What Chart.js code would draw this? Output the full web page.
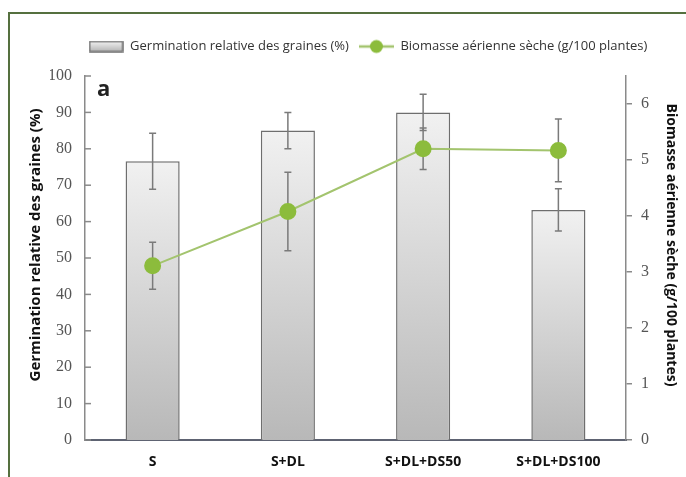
<!DOCTYPE html>
<html>
<head>
<meta charset="utf-8">
<script src="https://cdn.jsdelivr.net/npm/chart.js@4.4.0/dist/chart.umd.min.js"></script>
<style>
  html, body { margin: 0; padding: 0; background: #fff; }
  #wrap { position: relative; width: 686px; height: 477px; overflow: hidden; }
  #frame { position: absolute; left: 8px; top: 12px; right: -4px; bottom: -4px;
           border-left: 2px solid #55703f; border-top: 2px solid #55703f; }
  #chart { position: absolute; left: 0; top: 0; }
</style>
</head>
<body>
<div id="wrap">
  <div id="frame"></div>
  <canvas id="chart" width="686" height="477"></canvas>
</div>
<script>
// data
const categories = ['S', 'S+DL', 'S+DL+DS50', 'S+DL+DS100'];
const germination = [76.6, 85, 90, 63.2];
const germinationErr = [7.7, 5, 5, 5.8];
const biomasse = [3.11, 4.08, 5.2, 5.17];
const biomasseErr = [0.42, 0.7, 0.37, 0.56];
const panelLabel = 'a';
const leftTitle = 'Germination relative des graines (%)';
const rightTitle = 'Biomasse aérienne sèche (g/100 plantes)';

const GREEN_LINE = '#a3c46e';
const GREEN_POINT = '#8cbc3c';
const BAR_EDGE = '#6e6e6e';
const ERR_COLOR = '#7a7a7a';

// gradient per bar, light at the top and darker at the base
function barFill(context) {
  const chart = context.chart;
  if (!chart.chartArea || context.type !== 'data') return '#d4d4d4';
  const y = chart.scales.y;
  const top = y.getPixelForValue(context.raw);
  const bottom = y.getPixelForValue(0);
  const g = chart.ctx.createLinearGradient(0, top, 0, bottom);
  g.addColorStop(0, '#f1f1f1');
  g.addColorStop(1, '#b8b8b8');
  return g;
}

// little canvases used as legend symbols
function legendBox() {
  const c = document.createElement('canvas');
  c.width = 35; c.height = 12;
  const x = c.getContext('2d');
  const g = x.createLinearGradient(0, 1, 0, 11);
  g.addColorStop(0, '#f0f0f0');
  g.addColorStop(1, '#b4b4b4');
  x.fillStyle = g;
  x.fillRect(1, 1, 33, 10);
  x.strokeStyle = BAR_EDGE;
  x.lineWidth = 1.5;
  x.strokeRect(1, 1, 33, 10);
  return c;
}

function legendLine() {
  const c = document.createElement('canvas');
  c.width = 35; c.height = 16;
  const x = c.getContext('2d');
  x.strokeStyle = GREEN_LINE;
  x.lineWidth = 2.5;
  x.beginPath(); x.moveTo(0, 8); x.lineTo(35, 8); x.stroke();
  x.fillStyle = GREEN_POINT;
  x.beginPath(); x.arc(17.5, 8, 6.5, 0, Math.PI * 2); x.fill();
  return c;
}

function drawErrors(chart, index, scale, values, errs) {
  const ctx = chart.ctx;
  const meta = chart.getDatasetMeta(index);
  ctx.save();
  ctx.strokeStyle = ERR_COLOR;
  ctx.lineWidth = 1.5;
  meta.data.forEach(function(el, i) {
    const hi = scale.getPixelForValue(values[i] + errs[i]);
    const lo = scale.getPixelForValue(values[i] - errs[i]);
    ctx.beginPath();
    ctx.moveTo(el.x, hi); ctx.lineTo(el.x, lo);
    ctx.moveTo(el.x - 3.5, hi); ctx.lineTo(el.x + 3.5, hi);
    ctx.moveTo(el.x - 3.5, lo); ctx.lineTo(el.x + 3.5, lo);
    ctx.stroke();
  });
  ctx.restore();
}

const errorBars = {
  id: 'errorBars',
  afterDatasetDraw(chart, args) {
    if (args.index === 0) drawErrors(chart, 0, chart.scales.y, germination, germinationErr);
  },
  beforeDatasetDraw(chart, args) {
    if (args.index === 1) drawErrors(chart, 1, chart.scales.y1, biomasse, biomasseErr);
  }
};

function rotatedText(ctx, text, x, y, angle, font) {
  ctx.save();
  ctx.translate(x, y);
  ctx.rotate(angle);
  ctx.font = font;
  ctx.textAlign = 'center';
  ctx.textBaseline = 'middle';
  ctx.fillText(text, 0, 0);
  ctx.restore();
}

// inward tick marks on the left axis, axis titles and panel letter
const decorations = {
  id: 'decorations',
  afterDraw(chart) {
    const ctx = chart.ctx;
    const area = chart.chartArea;
    const y = chart.scales.y;
    ctx.save();
    ctx.strokeStyle = '#8a8a8a';
    ctx.lineWidth = 1.5;
    y.ticks.forEach(function(t) {
      const py = y.getPixelForValue(t.value);
      ctx.beginPath();
      ctx.moveTo(y.right, py);
      ctx.lineTo(y.right + 6, py);
      ctx.stroke();
    });
    ctx.fillStyle = '#111';
    // titles sit a little above the middle of the plot, as in the figure
    const midY = (area.top + area.bottom) / 2 - 13;
    rotatedText(ctx, leftTitle, 36, midY, -Math.PI / 2, 'bold 15px "Open Sans"');
    rotatedText(ctx, rightTitle, 671, midY, Math.PI / 2, 'bold 14px "Open Sans"');
    ctx.fillStyle = '#222';
    ctx.font = 'bold 22px "Open Sans"';
    ctx.textAlign = 'left';
    ctx.textBaseline = 'middle';
    ctx.fillText(panelLabel, area.left + 12, area.top + 14);
    ctx.restore();
  }
};

const boxImg = legendBox();
const lineImg = legendLine();

function createChart() {
  const ctx = document.getElementById('chart').getContext('2d');
  new Chart(ctx, {
    data: {
      labels: categories,
      datasets: [{
        type: 'bar',
        label: leftTitle,
        data: germination,
        yAxisID: 'y',
        backgroundColor: barFill,
        borderColor: BAR_EDGE,
        borderWidth: 1.5,
        barPercentage: 0.4,
        categoryPercentage: 1,
        order: 1
      }, {
        type: 'line',
        label: rightTitle,
        data: biomasse,
        yAxisID: 'y1',
        borderColor: GREEN_LINE,
        borderWidth: 2,
        pointRadius: 7.5,
        pointBackgroundColor: GREEN_POINT,
        pointBorderColor: GREEN_POINT,
        tension: 0,
        order: 0
      }]
    },
    options: {
      responsive: false,
      animation: false,
      devicePixelRatio: 1,
      // left padding only moves the legend's centre; the axis keeps its place
      layout: { padding: { top: 30, left: 50, right: 0, bottom: 0 } },
      plugins: {
        tooltip: { enabled: false },
        legend: {
          position: 'top',
          labels: {
            usePointStyle: true,
            pointStyleWidth: 35,
            padding: 10,
            color: '#333',
            font: { family: 'Open Sans', size: 13 },
            generateLabels: function(chart) {
              const ds = chart.data.datasets;
              return [
                { text: ds[0].label, pointStyle: boxImg, datasetIndex: 0, fontColor: '#333',
                  fillStyle: 'transparent', strokeStyle: 'transparent', lineWidth: 0, hidden: false },
                { text: ds[1].label, pointStyle: lineImg, datasetIndex: 1, fontColor: '#333',
                  fillStyle: 'transparent', strokeStyle: 'transparent', lineWidth: 0, hidden: false }
              ];
            }
          }
        }
      },
      scales: {
        x: {
          position: 'bottom',
          grid: { display: false, drawTicks: false },
          border: { display: true, color: '#5e6372', width: 2 },
          ticks: { color: '#111', padding: 14, font: { family: 'Open Sans', weight: 'bold', size: 14 } },
          afterFit: function(s) { s.height = 37; }
        },
        xTop: {
          type: 'category',
          position: 'top',
          grid: { display: false, drawTicks: false },
          border: { display: false },
          ticks: { display: false },
          afterFit: function(s) { s.height = 13; }
        },
        y: {
          position: 'left',
          min: 0,
          max: 100,
          ticks: { stepSize: 10, color: '#555', padding: 13, font: { family: 'Liberation Serif', size: 16 } },
          grid: { display: false, drawTicks: false },
          border: { display: true, color: '#8a8a8a', width: 1.5 },
          afterFit: function(s) { s.width = 35; }
        },
        y1: {
          position: 'right',
          min: 0,
          max: 6.5,
          ticks: { stepSize: 1, includeBounds: false, color: '#555', padding: 9, font: { family: 'Liberation Serif', size: 16 } },
          grid: { display: true, drawOnChartArea: false, drawTicks: true, tickLength: 6, color: '#8a8a8a', lineWidth: 1.5 },
          border: { display: true, color: '#8a8a8a', width: 1.5 },
          afterFit: function(s) { s.width = 60; }
        }
      }
    },
    plugins: [errorBars, decorations]
  });
}

window.onload = function() {
  createChart();
};
</script>
</body>
</html>
